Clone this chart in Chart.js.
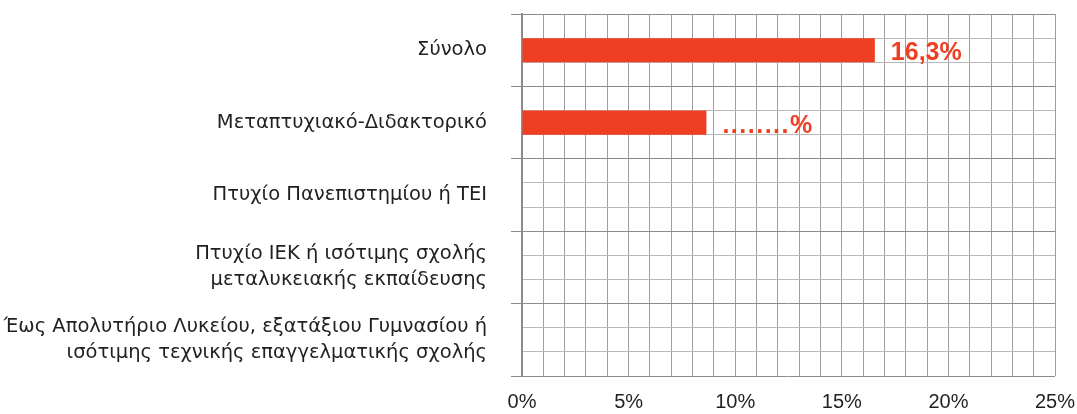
<!DOCTYPE html>
<html>
<head>
<meta charset="utf-8">
<script src="https://cdn.jsdelivr.net/npm/chart.js@4/dist/chart.umd.min.js"></script>
<style>
  body { margin: 0; background: #fff; }
  #wrap { width: 1077px; height: 414px; }
</style>
</head>
<body>
<div id="wrap"><canvas id="eduChart"></canvas></div>
<script>
// Κατηγορίες (επίπεδο εκπαίδευσης)
const categories = [
  "Σύνολο",
  "Μεταπτυχιακό-Διδακτορικό",
  "Πτυχίο Πανεπιστημίου ή ΤΕΙ",
  ["Πτυχίο ΙΕΚ ή ισότιμης σχολής", "μεταλυκειακής εκπαίδευσης"],
  ["Έως Απολυτήριο Λυκείου, εξατάξιου Γυμνασίου ή", "ισότιμης τεχνικής επαγγελματικής σχολής"],
];
// Τιμές όπως διαβάζονται από το μήκος των ράβδων (%)
const values = [16.55, 8.65, null, null, null];
// Ετικέτες τιμών δίπλα στις ράβδους
const valueLabels = ["16,3%", "........%", "", "", ""];
// Γραμμές πλέγματος: 3 υπο-γραμμές ανά κατηγορία (0..15)
const rowLines = [0, 1, 2, 3, 4, 5, 6, 7, 8, 9, 10, 11, 12, 13, 14, 15];

const red = "#ef3f23";
Chart.defaults.font.family = "'Liberation Sans', Arial, sans-serif";
Chart.defaults.color = "#231f20";

// Μηδενίζει τα επιπλέον περιθώρια που προσθέτει ο άξονας για τις ετικέτες
function noPad(scale) {
  scale.paddingTop = 0;
  scale.paddingBottom = 0;
  scale.paddingLeft = 0;
  scale.paddingRight = 0;
}

// Γράφει τις ετικέτες τιμών δεξιά από κάθε ράβδο
const valueLabelPlugin = {
  id: "valueLabels",
  afterDatasetsDraw(chart) {
    const ctx = chart.ctx;
    const meta = chart.getDatasetMeta(0);
    ctx.save();
    ctx.fillStyle = red;
    ctx.font = "bold 25px 'Liberation Sans', Arial, sans-serif";
    ctx.textAlign = "left";
    ctx.textBaseline = "alphabetic";
    meta.data.forEach((bar, i) => {
      if (values[i] == null) return;
      ctx.letterSpacing = valueLabels[i].startsWith(".") ? "1.5px" : "0px";
      ctx.fillText(valueLabels[i], bar.x + 16, bar.y + 10);
    });
    ctx.restore();
  },
};

const config = {
  type: "bar",
  data: {
    labels: categories,
    datasets: [
      {
        data: values,
        backgroundColor: red,
        borderWidth: 0,
        barPercentage: 1,
        categoryPercentage: 1 / 3,
      },
    ],
  },
  options: {
    indexAxis: "y",
    responsive: true,
    maintainAspectRatio: false,
    animation: false,
    layout: { padding: { top: 14, right: 22, left: 0, bottom: 0 } },
    plugins: {
      legend: { display: false },
      tooltip: { enabled: false },
    },
    scales: {
      x: {
        min: 0,
        max: 25,
        ticks: {
          stepSize: 1,
          autoSkip: false,
          maxRotation: 0,
          padding: 14,
          font: { size: 20 },
          callback: (v) => (v % 5 === 0 ? v + "%" : ""),
        },
        grid: { color: "#9d9d9d", drawTicks: false },
        border: { display: false },
        afterFit: (scale) => { scale.height = 38; noPad(scale); },
      },
      y: {
        ticks: {
          padding: 24,
          font: { family: "'DejaVu Sans', sans-serif", size: 19.5, lineHeight: 1.33 },
        },
        grid: { drawOnChartArea: false, tickLength: 11, color: "#8c8c8c" },
        border: { display: true, color: "#8c8c8c", width: 2 },
        afterFit: (scale) => { scale.width = 522; noPad(scale); },
      },
      // Βοηθητικός άξονας μόνο για τις λεπτές οριζόντιες γραμμές του πλέγματος
      y2: {
        type: "linear",
        position: "right",
        min: 0,
        max: 15,
        offset: false,
        ticks: { display: false },
        afterBuildTicks: (scale) => { scale.ticks = rowLines.map((v) => ({ value: v })); },
        grid: {
          offset: false,
          drawTicks: false,
          color: (c) => (c.tick && c.tick.value % 3 === 0 ? "#8c8c8c" : "#b9b9b9"),
        },
        border: { display: false },
        afterFit: (scale) => { scale.width = 0; noPad(scale); },
      },
    },
  },
  plugins: [valueLabelPlugin],
};

new Chart(document.getElementById("eduChart"), config);
</script>
</body>
</html>
